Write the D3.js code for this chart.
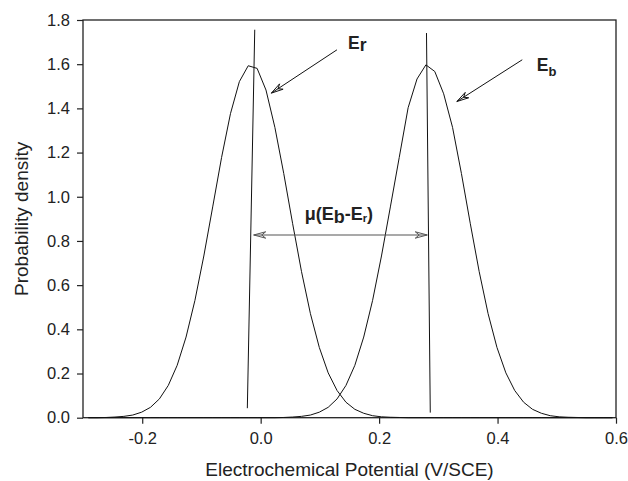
<!DOCTYPE html>
<html>
<head>
<meta charset="utf-8">
<script src="https://cdn.jsdelivr.net/npm/d3@7"></script>
<style>
body { margin: 0; background: #fff; }
text { font-family: "Liberation Sans", Arial, sans-serif; fill: #222; }
</style>
</head>
<body>
<script>
// potential grid (V/SCE)
var potential = [-0.291, -0.276, -0.261, -0.246, -0.231, -0.216, -0.201, -0.186, -0.171, -0.156,
                 -0.141, -0.126, -0.111, -0.096, -0.081, -0.066, -0.051, -0.036, -0.021, -0.006,
                  0.009,  0.024,  0.039,  0.054,  0.069,  0.084,  0.099,  0.114,  0.129,  0.144,
                  0.159,  0.174,  0.189,  0.204,  0.219,  0.234,  0.249,  0.264,  0.279,  0.294,
                  0.309,  0.324,  0.339,  0.354,  0.369,  0.384,  0.399,  0.414,  0.429,  0.444,
                  0.459,  0.474,  0.489,  0.504,  0.519,  0.534,  0.549,  0.564,  0.579,  0.594];

// Er distribution
var densityEr = [0.000, 0.000, 0.001, 0.003, 0.006, 0.012, 0.025, 0.047, 0.085, 0.146,
                 0.237, 0.365, 0.531, 0.732, 0.954, 1.178, 1.376, 1.521, 1.593, 1.581,
                 1.483, 1.314, 1.105, 0.878, 0.661, 0.471, 0.318, 0.203, 0.123, 0.070,
                 0.038, 0.020, 0.009, 0.004, 0.002, 0.001, 0.000, 0.000, 0.000, 0.000,
                 0.000, 0.000, 0.000, 0.000, 0.000, 0.000, 0.000, 0.000, 0.000, 0.000,
                 0.000, 0.000, 0.000, 0.000, 0.000, 0.000, 0.000, 0.000, 0.000, 0.000];

// Eb distribution
var densityEb = [0.000, 0.000, 0.000, 0.000, 0.000, 0.000, 0.000, 0.000, 0.000, 0.000,
                 0.000, 0.000, 0.000, 0.000, 0.000, 0.000, 0.000, 0.000, 0.000, 0.000,
                 0.000, 0.000, 0.001, 0.003, 0.006, 0.012, 0.025, 0.047, 0.085, 0.146,
                 0.237, 0.365, 0.531, 0.732, 0.954, 1.178, 1.403, 1.533, 1.597, 1.567,
                 1.466, 1.314, 1.105, 0.878, 0.661, 0.471, 0.318, 0.203, 0.123, 0.070,
                 0.038, 0.020, 0.009, 0.004, 0.002, 0.001, 0.000, 0.000, 0.000, 0.000];

// mean lines (slightly slanted in the original) [x top, y top, x bottom, y bottom]
var meanLines = [[-0.010, 1.756, -0.0225, 0.043],
                 [ 0.280, 1.741,  0.2864, 0.023]];

// label arrows [x from, y from, x tip, y tip]
var labelArrows = [[0.1288, 1.665, 0.018, 1.469],
                   [0.4417, 1.620, 0.3313, 1.431]];

// distance arrow between the two means
var distanceArrow = [-0.0118, 0.2813, 0.827];

var xTicks = [-0.2, 0.0, 0.2, 0.4, 0.6];
var yTicks = [0.0, 0.2, 0.4, 0.6, 0.8, 1.0, 1.2, 1.4, 1.6, 1.8];

var w = 628;
var h = 481;

var svg = d3.select("body")
            .append("svg")
            .attr("width", w)
            .attr("height", h);

var x = d3.scaleLinear()
    .domain([-0.3, 0.6])
    .range([83, 616]);

var y = d3.scaleLinear()
    .domain([0, 1.8])
    .range([417.7, 20]);

var fmt = function(d) { return d3.format(".1f")(d).replace("\u2212", "-"); };

//x axis, ticks pointing out
var xAxis = svg.append("g")
    .attr("transform", "translate(0," + y(0) + ")")
    .call(d3.axisBottom(x).tickValues(xTicks).tickSize(6).tickPadding(9).tickFormat(fmt));

var yAxis = svg.append("g")
    .attr("transform", "translate(" + x(-0.3) + ",0)")
    .call(d3.axisLeft(y).tickValues(yTicks).tickSize(6).tickPadding(7).tickFormat(fmt));

[xAxis, yAxis].forEach(function(a) {
    a.select(".domain").remove();
    a.selectAll("line").attr("stroke", "#222").attr("stroke-width", 1.2);
    a.selectAll("text")
        .attr("fill", "#222")
        .style("font-size", "16.5px")
        .style("font-family", "'Liberation Sans', Arial, sans-serif");
});

//frame
svg.append("rect")
    .attr("x", x(-0.3))
    .attr("y", y(1.8))
    .attr("width", x(0.6) - x(-0.3))
    .attr("height", y(0) - y(1.8))
    .attr("fill", "none")
    .attr("stroke", "#222")
    .attr("stroke-width", 1.3);

//the two density curves
var line = d3.line()
    .x(function(d) { return x(d[0]); })
    .y(function(d) { return y(d[1]); });

[densityEr, densityEb].forEach(function(series) {
    svg.append("path")
        .datum(potential.map(function(p, i) { return [p, series[i]]; }))
        .attr("d", line)
        .attr("fill", "none")
        .attr("stroke", "#111")
        .attr("stroke-width", 1);
});

//mean lines
svg.selectAll(".mean")
    .data(meanLines)
    .enter().append("line")
    .attr("class", "mean")
    .attr("x1", function(d) { return x(d[0]); })
    .attr("y1", function(d) { return y(d[1]); })
    .attr("x2", function(d) { return x(d[2]); })
    .attr("y2", function(d) { return y(d[3]); })
    .attr("stroke", "#111")
    .attr("stroke-width", 1);

//open arrow head, notched like the original
function arrowHead(tipX, tipY, fromX, fromY, color) {
    var a = Math.atan2(fromY - tipY, fromX - tipX);
    var L = 12, W = 3.2, N = 8;
    function pt(l, s) {
        return [tipX + l * Math.cos(a) - s * Math.sin(a), tipY + l * Math.sin(a) + s * Math.cos(a)];
    }
    var p = [[tipX, tipY], pt(L, W), pt(N, 0), pt(L, -W)];
    svg.append("path")
        .attr("d", "M" + p.join("L") + "Z")
        .attr("fill", "none")
        .attr("stroke", color)
        .attr("stroke-width", 1);
}

labelArrows.forEach(function(d) {
    svg.append("line")
        .attr("x1", x(d[0])).attr("y1", y(d[1]))
        .attr("x2", x(d[2])).attr("y2", y(d[3]))
        .attr("stroke", "#111")
        .attr("stroke-width", 1);
    arrowHead(x(d[2]), y(d[3]), x(d[0]), y(d[1]), "#111");
});

//distance arrow
svg.append("line")
    .attr("x1", x(distanceArrow[0])).attr("y1", y(distanceArrow[2]))
    .attr("x2", x(distanceArrow[1])).attr("y2", y(distanceArrow[2]))
    .attr("stroke", "#555")
    .attr("stroke-width", 1.2);
arrowHead(x(distanceArrow[0]), y(distanceArrow[2]), x(distanceArrow[1]), y(distanceArrow[2]), "#555");
arrowHead(x(distanceArrow[1]), y(distanceArrow[2]), x(distanceArrow[0]), y(distanceArrow[2]), "#555");

//labels
var er = svg.append("text")
    .attr("x", x(0.1474))
    .attr("y", y(1.670))
    .attr("font-weight", "bold")
    .style("font-size", "17.5px");
er.append("tspan").text("E");
er.append("tspan").attr("dy", 2).text("r");

var eb = svg.append("text")
    .attr("x", x(0.4663))
    .attr("y", y(1.570))
    .attr("font-weight", "bold")
    .style("font-size", "17.5px");
eb.append("tspan").text("E");
eb.append("tspan").attr("dy", 5).style("font-size", "13px").text("b");

var mu = svg.append("text")
    .attr("x", x(0.0743))
    .attr("y", y(0.895))
    .attr("font-weight", "bold")
    .style("font-size", "18px");
mu.append("tspan").text("\u03bc(E");
mu.append("tspan").attr("dy", 3).text("b");
mu.append("tspan").attr("dy", -3).text("-E");
mu.append("tspan").attr("dy", 2).style("font-size", "11px").text("r");
mu.append("tspan").attr("dy", -2).text(")");

//axis titles
svg.append("text")
    .attr("x", (x(-0.3) + x(0.6)) / 2)
    .attr("y", 476)
    .attr("text-anchor", "middle")
    .style("font-size", "19px")
    .text("Electrochemical Potential (V/SCE)");

svg.append("text")
    .attr("transform", "translate(28," + (y(0) + y(1.8)) / 2 + ") rotate(-90)")
    .attr("text-anchor", "middle")
    .style("font-size", "19px")
    .text("Probability density");
</script>
</body>
</html>
